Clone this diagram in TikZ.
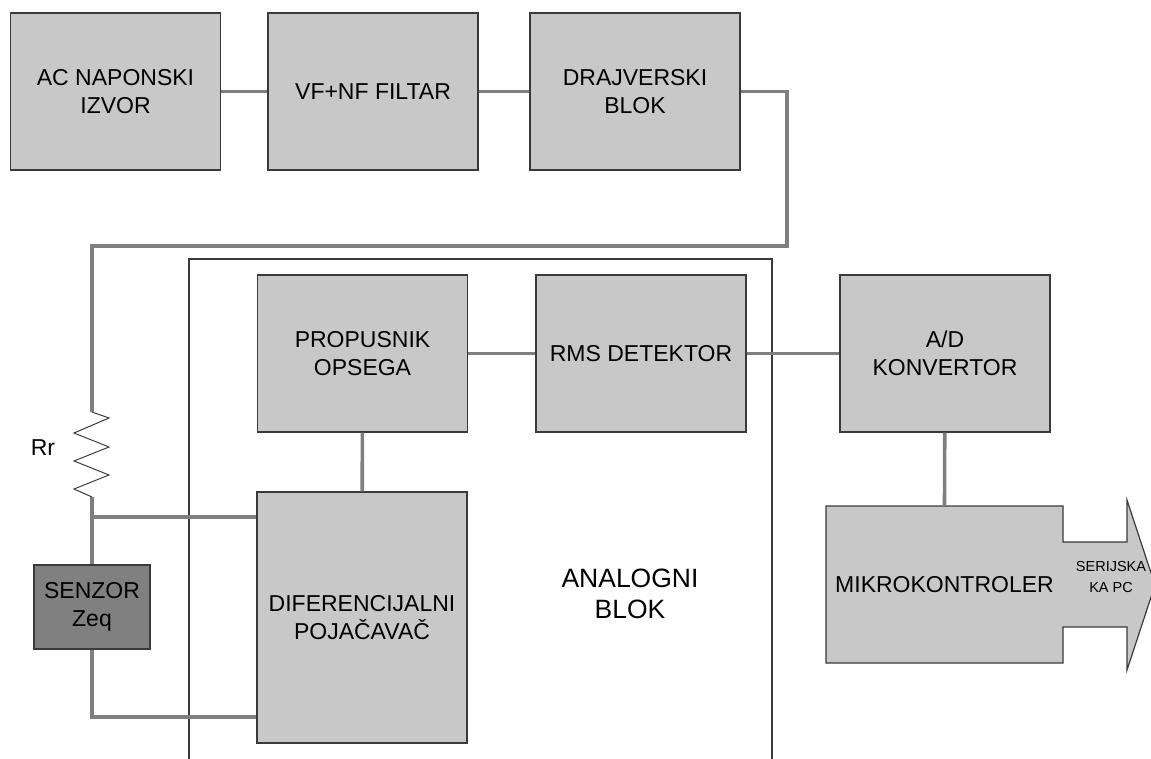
\documentclass[tikz,border=0pt]{standalone}
\usepackage{fontspec}
\setmainfont{Liberation Sans}
\definecolor{boxgray}{HTML}{C8C8C8}
\definecolor{sengray}{HTML}{808080}
\definecolor{wiregray}{HTML}{7F7F7F}
\definecolor{edgegray}{HTML}{3A3A3A}
\begin{document}
\begin{tikzpicture}[
  x=1pt, y=-1pt,
  blok/.style={rectangle, draw=edgegray, line width=1.2pt, fill=boxgray,
    minimum width=210pt, minimum height=157pt, inner sep=0pt, align=center,
    font=\fontsize{23}{27.7}\selectfont},
  wire/.style={draw=wiregray, line width=3.6pt},
  frame/.style={draw=edgegray, line width=1.2pt},
  every node/.style={font=\fontsize{23}{27.7}\selectfont}
]
  \useasboundingbox (0,0) rectangle (1151,758);

  % gornji red
  \node[blok] (ac)  at (115.5, 91.5) {AC NAPONSKI\\IZVOR};
  \node[blok] (vf)  at (373.0, 91.5) {VF+NF FILTAR};
  \node[blok] (drv) at (635.0, 91.5) {DRAJVERSKI\\BLOK};

  % analogni blok
  \draw[frame] (189,765) -- (189,259) -- (772,259) -- (772,765);
  \node[blok] (bp)  at (362.5,353.5) {PROPUSNIK\\OPSEGA};
  \node[blok] (rms) at (641.0,353.5) {RMS DETEKTOR};
  \node[blok, minimum height=251pt] (dif) at (362.0,617.5) {DIFERENCIJALNI\\POJAČAVAČ};
  \node[align=center, font=\fontsize{26.5}{31.5}\selectfont] (ab) at (630,594) {ANALOGNI\\BLOK};

  \node[blok] (adc) at (945.0,353.5) {A/D\\KONVERTOR};

  % mikrokontroler sa strelicom
  \node[inner sep=0pt, minimum width=237pt, minimum height=157pt] (mcu) at (944.5,584.5) {};
  \filldraw[draw=edgegray, line width=1.2pt, fill=boxgray]
    (826,506) -- (1063,506) -- (1063,542) -- (1127,542) -- (1127,500) -- (1155,585)
    -- (1127,670) -- (1127,627) -- (1063,627) -- (1063,663) -- (826,663) -- cycle;
  \node at (mcu) {MIKROKONTROLER};
  \node[align=center, font=\fontsize{14.5}{20.5}\selectfont] (ser) at (1111,577) {SERIJSKA\\KA PC};

  % senzor i otpornik
  \node[blok, fill=sengray, minimum width=116pt, minimum height=84pt] (sen) at (92,607) {SENZOR\\Zeq};
  \coordinate (rtop) at (92,412);
  \coordinate (rbot) at (92,497);
  \coordinate (jn)   at (92,517);
  \node (rr) at (43,448) {Rr};

  \draw[wire] (ac) -- (vf);
  \draw[wire] (vf) -- (drv);
  \draw[wire] (drv.east) -| (787,246) -| (rtop);
  \draw[draw=edgegray, line width=1pt] (rtop) -- (109,418) -- (74,433) -- (109,447)
    -- (74,461) -- (109,475) -- (74,489) -- (rbot);
  \draw[wire] (rbot) -- (sen.north);
  \draw[wire] (jn) -- (dif.west |- jn);
  \draw[wire] (sen.south) |- (dif.west |- 0,717);
  \draw[wire] (bp) -- (rms);
  \draw[wire] (rms) -- (adc);
  \draw[wire] (bp) -- (dif);
  \draw[wire] (adc) -- (mcu.north);
\end{tikzpicture}
\end{document}
